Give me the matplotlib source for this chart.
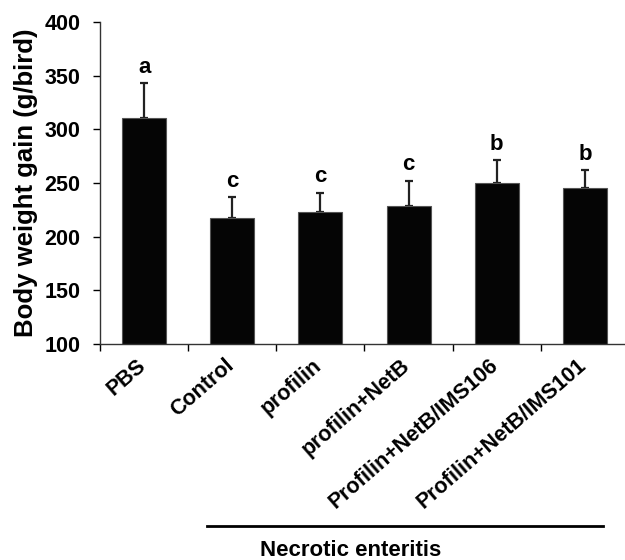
import matplotlib.pyplot as plt
import matplotlib as mp
import numpy as np

mp.rcParams.update({'font.family': 'Liberation Sans', 'font.weight': 'bold'})

groups = ['PBS', 'Control', 'profilin', 'profilin+NetB',
          'Profilin+NetB/IMS106', 'Profilin+NetB/IMS101']
gain = [311, 217, 223, 229, 250, 245]
sem = [32, 20, 18, 23, 21, 17]
letters = ['a', 'c', 'c', 'c', 'b', 'b']
y_ticks = [100, 150, 200, 250, 300, 350, 400]

fig = plt.figure(figsize=(6.25, 5.6), dpi=100, facecolor='w')
ax = fig.add_axes([0.16, 0.3857, 0.8464, 0.575])

x = np.arange(len(groups))

# Plot #
ax.bar(x, gain, width=0.5, color='#050505', edgecolor='#555555', linewidth=0.8, zorder=2)
ax.errorbar(x, gain, yerr=[np.zeros(len(sem)), sem], fmt='none', ecolor='#222222',
            elinewidth=1.6, capsize=3, capthick=1.6, zorder=1)
for xi, g, s, l in zip(x, gain, sem, letters):
    ax.text(xi, g + s + 5, l, ha='center', va='bottom', fontsize=16, fontweight='bold')

# Y-As #
ax.set_ylim(100, 400)
ax.set_yticks(y_ticks)
ax.tick_params(axis='y', labelsize=15.5, length=5, width=1, direction='out', pad=9)
ax.set_ylabel('Body weight gain (g/bird)', fontsize=18.5, fontweight='bold', labelpad=5)

# X-As #
ax.set_xlim(-0.5, len(groups) - 0.5)
ax.set_xticks(np.arange(len(groups) + 1) - 0.5)
ax.set_xticklabels([])
ax.tick_params(axis='x', length=5, width=1, direction='out')
# labels sit a little left of the bar centre
ax.set_xticks(x - 0.09, minor=True)
ax.set_xticklabels(groups, minor=True, rotation=41, ha='right', va='top',
                   rotation_mode='anchor', fontsize=15.5, fontweight='bold')
ax.tick_params(axis='x', which='minor', length=0, pad=8)

for side in ['top', 'right']:
    ax.spines[side].set_visible(False)
for side in ['left', 'bottom']:
    ax.spines[side].set_color('#333333')
    ax.spines[side].set_linewidth(1.0)

# Necrotic enteritis bracket
fig.add_artist(plt.Line2D([207 / 625, 603 / 625], [1 - 526 / 560, 1 - 526 / 560],
                          color='black', linewidth=2))
fig.text(351 / 625, 1 - 550 / 560, 'Necrotic enteritis', ha='center', va='center',
         fontsize=16, fontweight='bold')

plt.savefig('out.png', dpi=100)
plt.close()
